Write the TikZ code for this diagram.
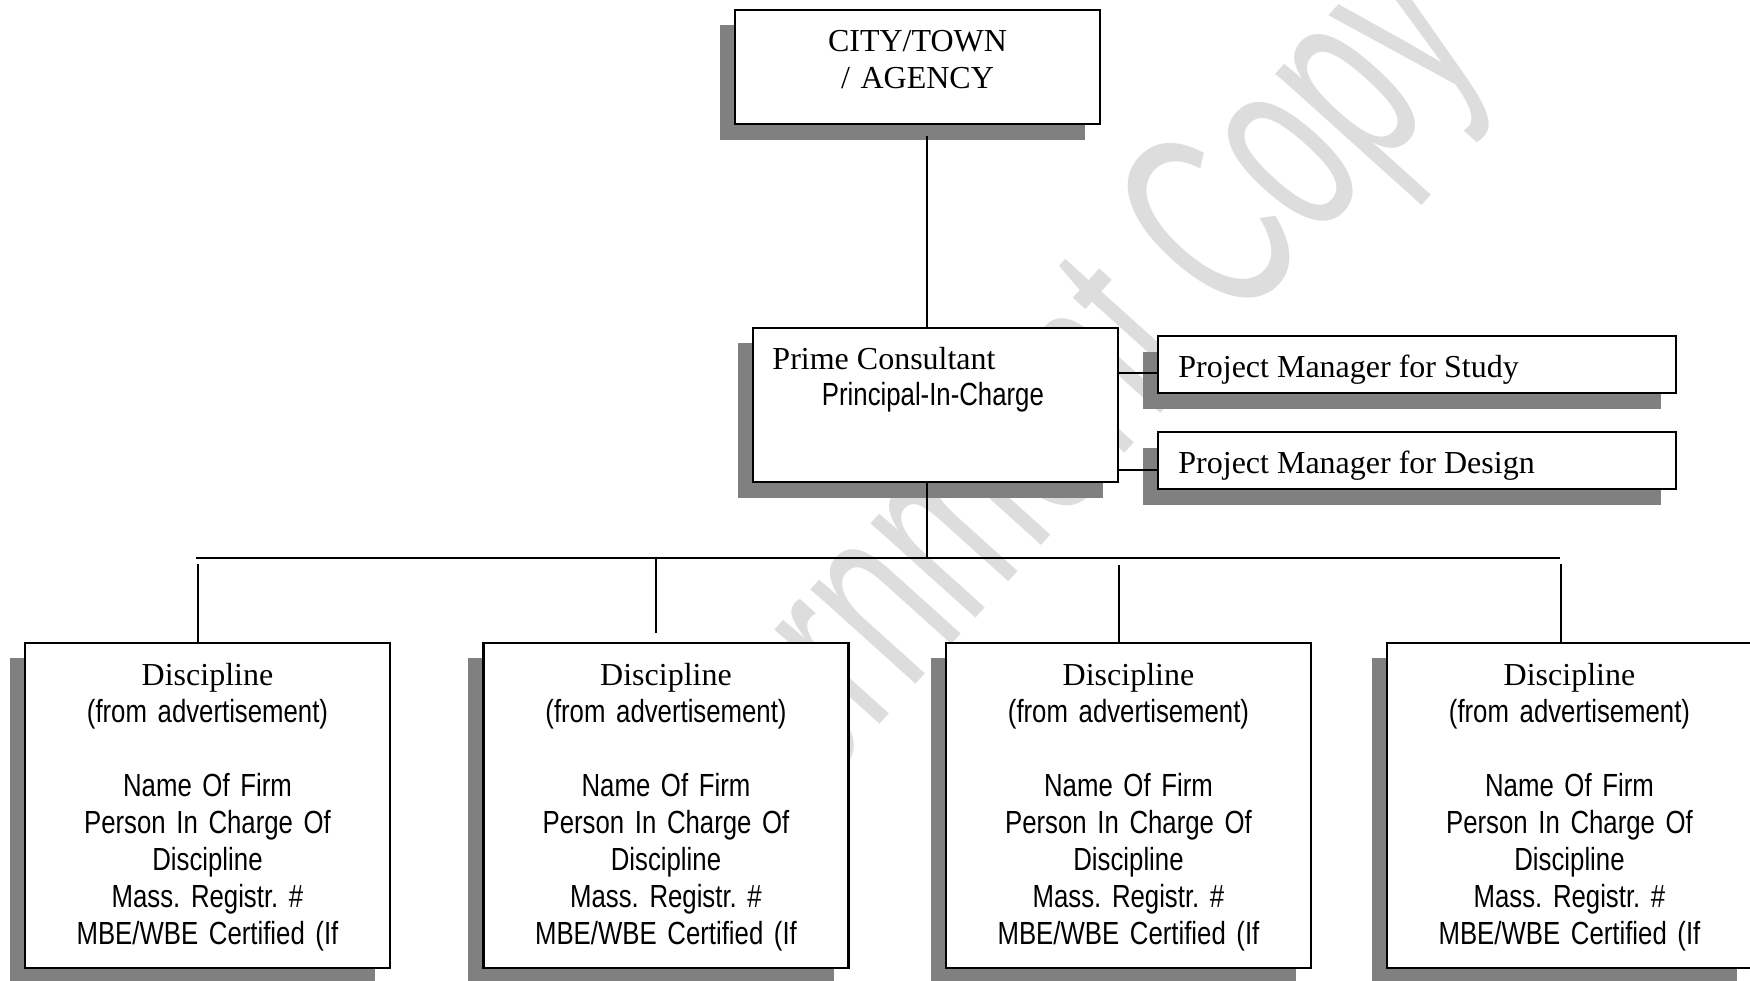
\documentclass[tikz,border=0pt]{standalone}
\usepackage{fontspec}
\setmainfont{Liberation Serif}
\newfontfamily\nsans[FakeStretch=0.805]{Liberation Sans}
\newfontfamily\wmfont[FakeStretch=0.6]{Liberation Sans}
\usetikzlibrary{shadows,calc}
\definecolor{shadowgray}{RGB}{128,128,128}
\definecolor{wmgray}{RGB}{221,221,221}
\newcommand\tsz{\fontsize{9.1pt}{10.52pt}\selectfont}
\newcommand\sansf{\nsans\fontdimen2\font=0.12em\fontdimen3\font=0pt\fontdimen4\font=0pt\relax}
\frenchspacing
\tikzset{
  box/.style={draw=black, line width=0.65pt, fill=white, inner sep=0pt,
    drop shadow={shadow xshift=-0.15cm, shadow yshift=-0.155cm, fill=shadowgray, opacity=1}},
  wide/.style={box, minimum width=3.65cm},
  pmbox/.style={box, minimum width=5.18cm, minimum height=0.57cm},
  link/.style={draw=black, line width=0.6pt},
  txt/.style={inner sep=0pt, font=\tsz},
  ctxt/.style={txt, text width=3.6cm, align=center, anchor=base},
}
\begin{document}
\begin{tikzpicture}[x=0.01cm, y=-0.01cm]
\useasboundingbox (0,0) rectangle (1750,981);
% watermark
\node[rotate=48, text=wmgray, font=\wmfont\fontsize{76pt}{76pt}\selectfont, inner sep=0pt] (wm) at (1003,490) {Government Copy};

% top box
\node[wide, minimum height=1.14cm] (top) at (917.5,67) {};
\node[ctxt] (topt) at ($(top.north)+(0,43)$) {CITY/TOWN\\/ AGENCY};

% prime consultant
\node[wide, minimum height=1.54cm] (prime) at (935.5,405) {};
\node[txt, anchor=base west] (primet1) at ($(prime.north west)+(20,43)$) {Prime Consultant};
\node[txt, anchor=base west] (primet2) at ($(prime.north west)+(69.5,79)$) {\sansf Principal-In-Charge};

% project managers
\node[pmbox] (study) at (1417,364.5) {};
\node[txt, anchor=base west] (studyt) at ($(study.north west)+(21,43)$) {Project Manager for Study};
\node[pmbox] (design) at (1417,460.5) {};
\node[txt, anchor=base west] (designt) at ($(design.north west)+(21,43)$) {Project Manager for Design};

% discipline boxes
\foreach \n/\x in {d1/207.5, d2/666, d3/1128.5, d4/1569.5} {
  \node[wide, minimum height=3.25cm] (\n) at (\x,805.5) {};
  \node[ctxt] (\n-t) at ($(\n.north)+(0,43.5)$) {Discipline\\ \sansf (from advertisement)\\ \mbox{}\\ Name Of Firm\\ Person In Charge Of\\ Discipline\\ Mass. Registr. \#\\ MBE/WBE Certified (If};
}

% connectors
\coordinate (tj) at (927,0);
\coordinate (busL) at (196,558);
\coordinate (busR) at (1560,558);
\draw[link] ($(top.south -| tj)+(0,11)$) -- (prime.north -| tj);
\draw[link] (prime.south -| tj) -- (tj |- busL);
\draw[link] (busL) -- (busR);
\draw[link] ($(d1.north)+(-9.5,-78)$) -- ($(d1.north)+(-9.5,0)$);
\draw[link] ($(d2.north)+(-10,-85)$) -- ($(d2.north)+(-10,-9)$);
\draw[link] ($(d3.north)+(-9.5,-77)$) -- ($(d3.north)+(-9.5,0)$);
\draw[link] ($(d4.north)+(-8.5,-78)$) -- ($(d4.north)+(-8.5,0)$);
\coordinate (sj) at ($(study.west)+(0,8.5)$);
\draw[link] (prime.east |- sj) -- (sj);
\coordinate (dj) at ($(design.west)+(0,9.5)$);
\draw[link] (prime.east |- dj) -- (dj);
\end{tikzpicture}
\end{document}
